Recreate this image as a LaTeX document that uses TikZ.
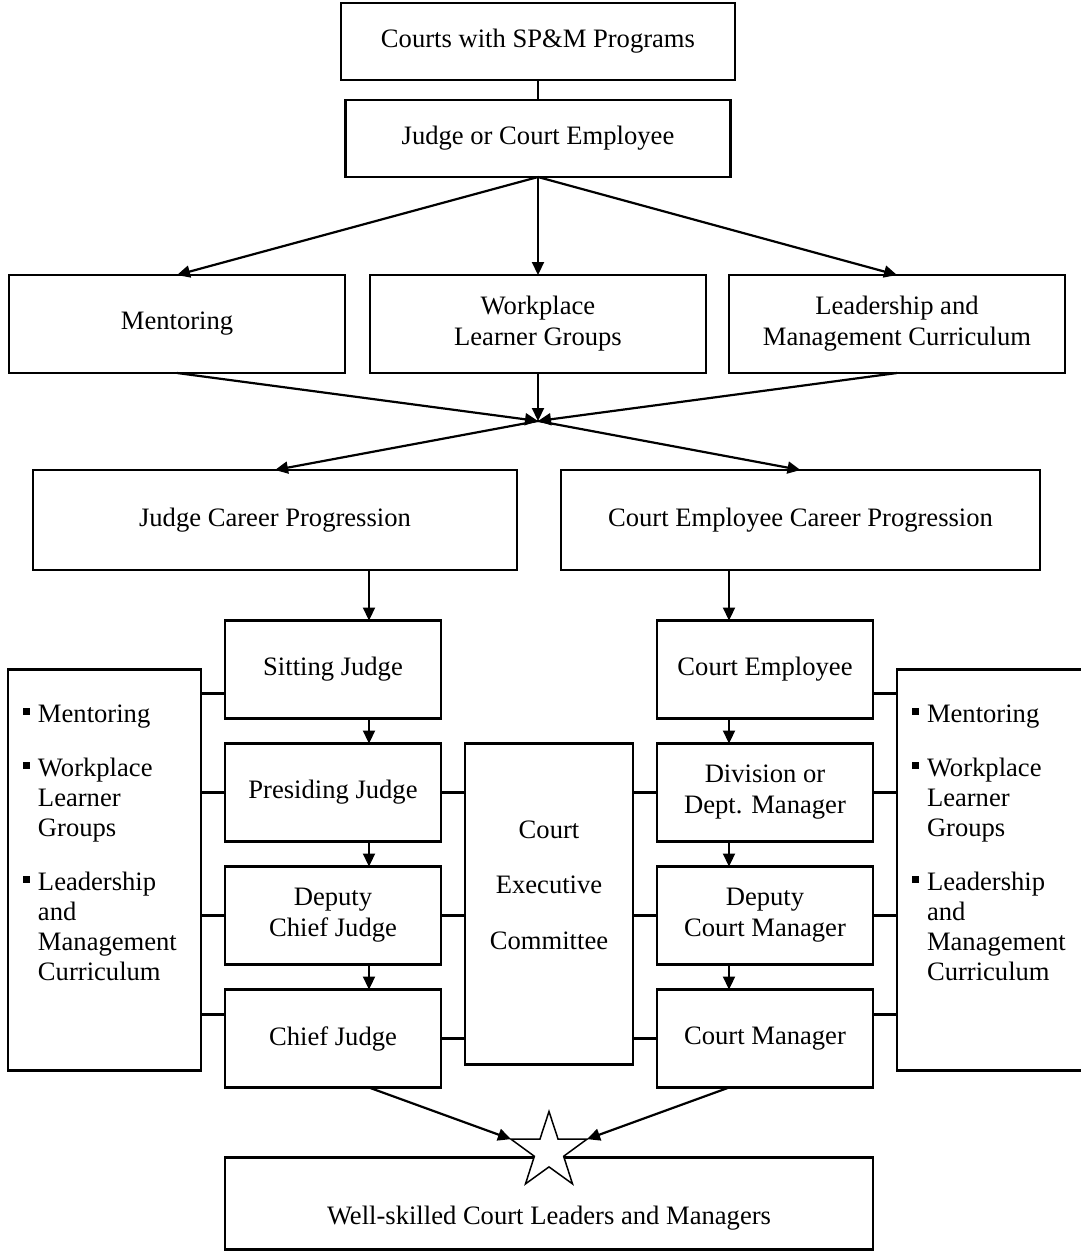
\documentclass[tikz,border=0pt]{standalone}
\usepackage{fontspec}
\setmainfont{Liberation Serif}
\usetikzlibrary{positioning,arrows.meta,shapes.geometric}

\newcommand{\bul}{\makebox[15pt][l]{\rule[7pt]{7pt}{7pt}}}
\newcommand{\sidelist}{\parbox[c][401pt][t]{193pt}{\fontsize{26.6pt}{30pt}\selectfont\raggedright
  \leftskip=15pt \parindent=0pt
  \vspace*{35pt}
  \hangindent=15pt \hangafter=1 \bul Mentoring\par
  \vspace{24pt}
  \hangindent=15pt \hangafter=1 \bul Workplace\newline Learner\newline Groups\par
  \vspace{24pt}
  \hangindent=15pt \hangafter=1 \bul Leadership\newline and\newline Management\newline Curriculum\par}}

\tikzset{
  every node/.style={text=black, draw=black, font=\fontsize{26.6pt}{31pt}\selectfont, line width=2.2pt,
    inner sep=0pt, outer sep=0pt, align=center},
  every path/.style={line width=2.2pt},
  rungbox/.style={minimum width=216pt, minimum height=98pt}
}

\begin{document}
\begin{tikzpicture}[x=1pt, y=-1pt, >={Triangle[length=13pt,width=12pt]}]
  \useasboundingbox (0,0) rectangle (1080,1253);
  % Top
  \node (courts) [minimum width=394pt, minimum height=77pt] at (538,41.5) {Courts with SP\&M Programs};
  \node (person) [below=20pt of courts, minimum width=385pt, minimum height=77pt] {Judge or Court Employee};

  % Learning
  \node (groups) [below=98pt of person, minimum width=336pt, minimum height=98pt] {Workplace\\Learner Groups};
  \node (mentoring) [left=25pt of groups, minimum width=336pt, minimum height=98pt] {Mentoring};
  \node (curriculum) [right=23pt of groups, minimum width=336pt, minimum height=98pt] {Leadership and\\Management Curriculum};
  \coordinate [below=48pt of groups] (hub);

  % Career progression
  \node (judgecp) [minimum width=484pt, minimum height=100pt] at (275,520) {Judge Career Progression};
  \node (empcp) [right=44pt of judgecp, minimum width=479pt, minimum height=100pt] {Court Employee Career Progression};

  % Judge ladder
  \node (sitting) [rungbox] at (333,669.5) {Sitting Judge};
  \node (presiding) [rungbox, below=25pt of sitting] {Presiding Judge};
  \node (deputyjudge) [rungbox, below=25pt of presiding] {Deputy\\Chief Judge};
  \node (chief) [rungbox, below=25pt of deputyjudge] {Chief Judge};

  \node (cec) [right=24pt of presiding.north east, anchor=north west, minimum width=168pt, minimum height=321pt,
    font=\fontsize{26.6pt}{55.5pt}\selectfont, text depth=38pt] {Court\\Executive\\Committee};

  % Employee ladder
  \node (division) [rungbox, right=24pt of cec.north east, anchor=north west] {Division or\\Dept. Manager};
  \node (courtemp) [rungbox, above=25pt of division] {Court Employee};
  \node (deputymgr) [rungbox, below=25pt of division] {Deputy\\Court Manager};
  \node (manager) [rungbox, below=25pt of deputymgr] {Court Manager};

  % Side lists
  \node (lside) [left=24pt of sitting.west, anchor=north east, minimum width=193pt, minimum height=401pt] {\sidelist};
  \node (rside) [right=24pt of courtemp.east, anchor=north west, minimum width=193pt, minimum height=401pt] {\sidelist};

  % Outcome
  \node (outcome) [below=70pt of chief.south west, anchor=north west, minimum width=648pt, minimum height=92pt,
    text height=48pt] {Well-skilled Court Leaders and Managers};
  \node (goal) [star, star points=5, star point ratio=2.6, minimum size=80pt, fill=white, line width=1.5pt]
    at ([yshift=6pt]outcome.north) {};

  % Connectors
  \draw (courts) -- (person);
  \foreach \n in {mentoring, groups, curriculum} {
    \draw[->] (person.south) -- (\n.north);
    \draw[->] (\n.south) -- (hub);
  }
  \draw[->] (hub) -- (judgecp.north);
  \draw[->] (hub) -- (empcp.north);
  \draw[->] ([xshift=94pt]judgecp.south) -- ([xshift=36pt]sitting.north);
  \draw[->] ([xshift=-71.5pt]empcp.south) -- ([xshift=-36pt]courtemp.north);
  \foreach \a/\b in {sitting/presiding, presiding/deputyjudge, deputyjudge/chief}
    \draw[->] ([xshift=36pt]\a.south) -- ([xshift=36pt]\b.north);
  \foreach \a/\b in {courtemp/division, division/deputymgr, deputymgr/manager}
    \draw[->] ([xshift=-36pt]\a.south) -- ([xshift=-36pt]\b.north);
  \foreach \n/\dy in {sitting/-24, presiding/0, deputyjudge/0, chief/24}
    \draw ([yshift=\dy pt]\n.west) -- ++(-24pt,0);
  \foreach \n/\dy in {courtemp/-24, division/0, deputymgr/0, manager/24}
    \draw ([yshift=\dy pt]\n.east) -- ++(24pt,0);
  \foreach \n in {presiding, deputyjudge, chief}
    \draw (\n.east) -- (\n.east -| cec.west);
  \foreach \n in {division, deputymgr, manager}
    \draw (\n.west) -- (\n.west -| cec.east);
  \draw[->] ([xshift=36pt]chief.south) -- (goal.outer point 2);
  \draw[->] ([xshift=-36pt]manager.south) -- (goal.outer point 5);
\end{tikzpicture}
\end{document}
